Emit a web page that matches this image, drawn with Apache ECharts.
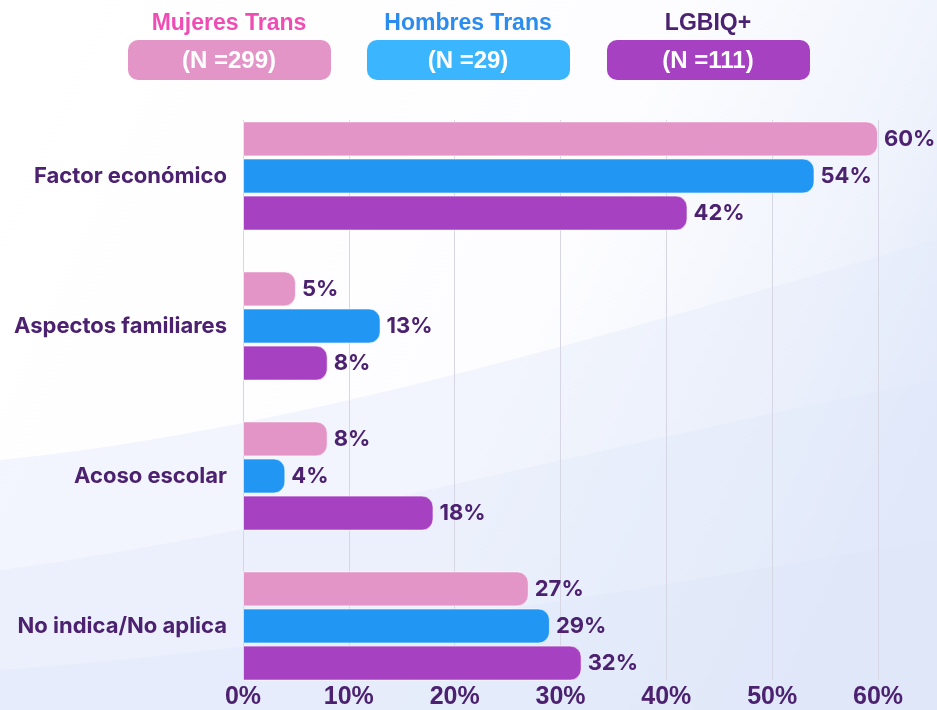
<!DOCTYPE html>
<html>
<head>
<meta charset="utf-8">
<script src="https://cdn.jsdelivr.net/npm/echarts@6/dist/echarts.min.js"></script>
<style>
  html, body { margin: 0; padding: 0; }
  #chart { width: 937px; height: 710px; }
</style>
</head>
<body>
<div id="chart"></div>
<script>
// data
var categories = ['Factor económico', 'Aspectos familiares', 'Acoso escolar', 'No indica/No aplica'];
var groupNames = ['Mujeres Trans', 'Hombres Trans', 'LGBIQ+'];
var groupCounts = ['(N =299)', '(N =29)', '(N =111)'];
var mujeresTrans = [60, 5, 8, 27];
var hombresTrans = [54, 13, 4, 29];
var lgbiq = [42, 8, 18, 32];
var xTicks = [0, 10, 20, 30, 40, 50, 60];

var textColor = '#4b2170';
var barColors = ['#e495c8', '#2196f3', '#a641c1'];
var boxColors = ['#e495c8', '#3bb5fd', '#a641c1'];
var titleColors = ['#f04db4', '#2b8ced', '#4a2270'];
var mainFont = 'Inter, "Noto Sans", sans-serif';
var narrowFont = '"Liberation Sans Narrow", "Liberation Sans", sans-serif';

var chart = echarts.init(document.getElementById('chart'));

// soft background wave: cubic curve from left edge to right edge, closed at bottom
function wave(y0, c1, c2, y1) {
    var pts = [];
    for (var i = 0; i <= 40; i++) {
        var t = i / 40, u = 1 - t;
        var x = 3 * u * u * t * 300 + 3 * u * t * t * 620 + t * t * t * 937;
        var y = u * u * u * y0 + 3 * u * u * t * c1 + 3 * u * t * t * c2 + t * t * t * y1;
        pts.push([x, y]);
    }
    pts.push([937, 710], [0, 710]);
    return pts;
}

var graphics = [{
    type: 'polygon', z: -10,
    shape: { points: wave(460, 430, 330, 240) },
    style: { fill: 'rgba(228,234,250,0.45)' }
}, {
    type: 'polygon', z: -9,
    shape: { points: wave(570, 530, 440, 380) },
    style: { fill: 'rgba(224,232,250,0.35)' }
}, {
    type: 'polygon', z: -8,
    shape: { points: wave(670, 650, 590, 540) },
    style: { fill: 'rgba(220,230,250,0.3)' }
}];

// custom legend: title above a rounded box
var legendX = [128, 367, 607];
groupNames.forEach(function (name, i) {
    graphics.push({
        type: 'rect',
        left: legendX[i], top: 40,
        shape: { width: 203, height: 40, r: 10 },
        style: { fill: boxColors[i] }
    });
    graphics.push({
        type: 'text',
        x: legendX[i] + 101, y: 24,
        style: {
            text: name, fill: titleColors[i],
            font: 'bold 23px ' + narrowFont,
            textAlign: 'center', textVerticalAlign: 'middle'
        }
    });
    graphics.push({
        type: 'text',
        x: legendX[i] + 101, y: 61,
        style: {
            text: groupCounts[i], fill: '#ffffff',
            font: 'bold 24px ' + narrowFont,
            textAlign: 'center', textVerticalAlign: 'middle'
        }
    });
});

function makeSeries(name, values, idx) {
    return {
        name: name,
        type: 'bar',
        xAxisIndex: 1,
        yAxisIndex: 1,
        data: values,
        barWidth: 35,
        barGap: '6%',
        itemStyle: {
            color: barColors[idx],
            borderRadius: [0, 11, 11, 0],
            borderColor: 'rgba(255,255,255,0.6)',
            borderWidth: 1
        },
        label: {
            show: true,
            position: 'right',
            distance: 6,
            formatter: '{c}%',
            color: textColor,
            fontFamily: mainFont,
            fontWeight: 'bold',
            fontSize: 22
        }
    };
}

var option = {
    animation: false,
    backgroundColor: {
        type: 'linear', x: 0, y: 0, x2: 1, y2: 0.6,
        colorStops: [
            { offset: 0, color: '#ffffff' },
            { offset: 0.6, color: '#fdfdff' },
            { offset: 0.85, color: '#eff3fc' },
            { offset: 1, color: '#e0e8f9' }
        ]
    },
    graphic: graphics,
    grid: [
        { left: 243, right: 59, top: 120, bottom: 28 },
        { left: 243, right: 59, top: 101, height: 600 }
    ],
    xAxis: [{
        gridIndex: 0,
        type: 'value',
        min: xTicks[0],
        max: xTicks[xTicks.length - 1],
        interval: 10,
        axisLine: { show: false },
        axisTick: { show: false },
        splitLine: { lineStyle: { color: '#d6d6e4', width: 1 } },
        axisLabel: {
            formatter: '{value}%',
            margin: 5,
            color: textColor,
            fontFamily: narrowFont,
            fontWeight: 'bold',
            fontSize: 25
        }
    }, {
        gridIndex: 1,
        type: 'value',
        min: xTicks[0],
        max: xTicks[xTicks.length - 1],
        show: false
    }],
    yAxis: [{
        gridIndex: 0,
        type: 'category',
        data: categories,
        show: false
    }, {
        gridIndex: 1,
        type: 'category',
        data: categories,
        inverse: true,
        axisLine: { show: false },
        axisTick: { show: false },
        splitLine: { show: false },
        axisLabel: {
            margin: 16,
            color: textColor,
            fontFamily: mainFont,
            fontWeight: 'bold',
            fontSize: 22
        }
    }],
    series: [
        makeSeries(groupNames[0], mujeresTrans, 0),
        makeSeries(groupNames[1], hombresTrans, 1),
        makeSeries(groupNames[2], lgbiq, 2)
    ]
};

chart.setOption(option);
</script>
</body>
</html>
